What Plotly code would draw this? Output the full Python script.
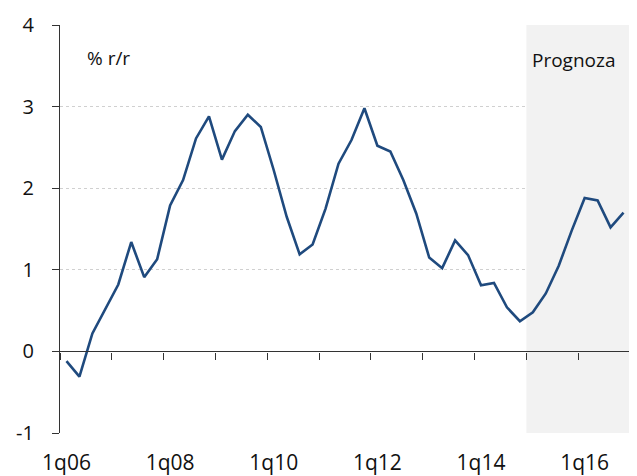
import plotly.graph_objects as go

quarters = [f"{q}q{y:02d}" for y in range(6, 17) for q in range(1, 5)]
values = [-0.12, -0.31, 0.22, 0.52, 0.82, 1.34, 0.91, 1.13,
          1.79, 2.10, 2.61, 2.88, 2.35, 2.70, 2.90, 2.75,
          2.22, 1.65, 1.19, 1.31, 1.75, 2.30, 2.59, 2.98,
          2.52, 2.45, 2.10, 1.69, 1.15, 1.02, 1.36, 1.18,
          0.81, 0.84, 0.54, 0.37, 0.48, 0.71, 1.05, 1.48,
          1.88, 1.85, 1.52, 1.70]
tick_labels = ["1q06", "1q08", "1q10", "1q12", "1q14", "1q16"]
forecast_start = "1q15"
y_ticks = [-1, 0, 1, 2, 3, 4]

FONT = "Open Sans"
idx = list(range(len(quarters)))
label_pos = [quarters.index(t) for t in tick_labels]
year_bounds = [i - 0.5 for i in range(0, len(quarters) + 1, 4)]
fc = quarters.index(forecast_start) - 0.5

fig = go.Figure()
fig.add_trace(go.Scatter(x=idx, y=values, mode="lines",
                         line=dict(color="#1f4a7e", width=2.6),
                         hoverinfo="skip", showlegend=False))
# invisible trace for the axis at y=0
fig.add_trace(go.Scatter(x=[idx[0]], y=[0], xaxis="x2", mode="markers",
                         marker=dict(opacity=0), showlegend=False, hoverinfo="skip"))

fig.add_shape(type="rect", xref="x", yref="y", x0=fc, x1=len(quarters) - 0.5,
              y0=-1, y1=4, fillcolor="#f2f2f2", line=dict(width=0), layer="between")

fig.add_annotation(text="% r/r", xref="paper", yref="y", x=0.043, y=3.6,
                   xanchor="left", yanchor="middle", showarrow=False,
                   font=dict(family=FONT, size=19, color="#111111"))
fig.add_annotation(text="Prognoza", xref="x", yref="y", x=fc + 0.3, y=3.57,
                   xanchor="left", yanchor="middle", showarrow=False,
                   font=dict(family=FONT, size=19, color="#111111"))

fig.update_layout(
    width=629, height=468,
    margin=dict(l=52, r=7, t=17, b=43, autoexpand=False),
    paper_bgcolor="white", plot_bgcolor="white",
    font=dict(family=FONT, size=20, color="#111111"),
    xaxis=dict(range=[-0.5, len(quarters) - 0.5], tickvals=label_pos, ticktext=tick_labels,
               showgrid=False, zeroline=False, showline=False, ticks="",
               ticklabelstandoff=15, tickfont=dict(size=21), automargin=False),
    xaxis2=dict(range=[-0.5, len(quarters) - 0.5], overlaying="x", anchor="free",
                position=0.2, side="bottom", showline=True, linecolor="#333333", linewidth=1.3,
                tickvals=year_bounds, ticks="outside", ticklen=7, tickcolor="#333333",
                tickwidth=1.3, showticklabels=False, showgrid=False, zeroline=False,
                automargin=False),
    yaxis=dict(range=[-1, 4], tickvals=y_ticks, ticktext=[str(v) for v in y_ticks],
               showgrid=True, gridcolor="#d0d0d0", griddash="dot", gridwidth=1,
               zeroline=False, showline=True, linecolor="#333333", linewidth=1.3,
               ticks="outside", ticklen=7, tickcolor="#333333", tickwidth=1.3,
               ticklabelstandoff=14, tickfont=dict(size=20), automargin=False),
)

fig.write_html("out.html")
